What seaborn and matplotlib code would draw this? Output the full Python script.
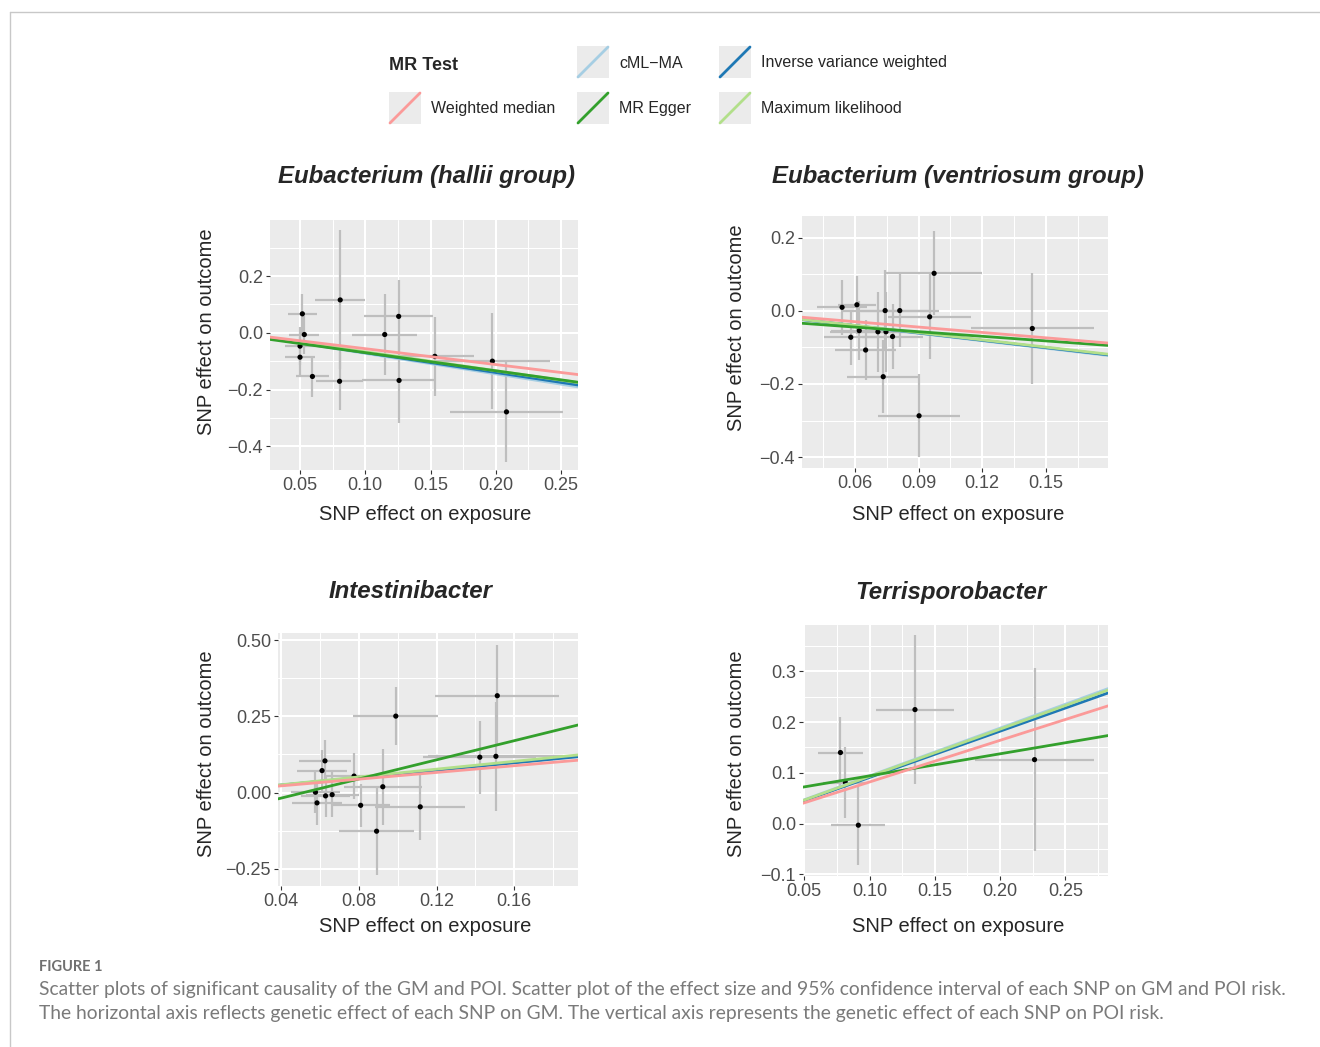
import matplotlib
matplotlib.use("Agg")
import matplotlib.pyplot as plt
import seaborn as sns
from matplotlib.ticker import MultipleLocator, FuncFormatter
from matplotlib.lines import Line2D
from matplotlib.patches import Rectangle

# MR methods (legend order / palette "Paired")
method_names = ["cML\u2212MA", "Inverse variance weighted", "Maximum likelihood", "MR Egger", "Weighted median"]
method_colors = ["#A6CEE3", "#1F78B4", "#B2DF8A", "#33A02C", "#FB9A99"]

# Eubacterium (hallii group)
hallii_bx = [0.0518, 0.0533, 0.0500, 0.0500, 0.0595, 0.0808, 0.0803, 0.1149, 0.1256, 0.1259, 0.1533, 0.1974, 0.2082]
hallii_by = [0.067, -0.006, -0.047, -0.086, -0.154, 0.116, -0.171, -0.006, 0.058, -0.168, -0.083, -0.100, -0.279]
hallii_ex = [0.0109, 0.0115, 0.0115, 0.0112, 0.0124, 0.0190, 0.0183, 0.0250, 0.0264, 0.0282, 0.0297, 0.0440, 0.0436]
hallii_ey = [0.071, 0.067, 0.067, 0.071, 0.073, 0.245, 0.103, 0.142, 0.128, 0.151, 0.139, 0.170, 0.177]
hallii_slopes = [-0.725, -0.70, -0.668, -0.64, -0.56]
hallii_egger_int = -0.006

# Eubacterium (ventriosum group)
vent_bx = [0.0539, 0.0609, 0.0742, 0.0811, 0.0952, 0.0620, 0.0708, 0.0746, 0.0777, 0.0580, 0.0650, 0.0733, 0.0902, 0.0973, 0.1436]
vent_by = [0.010, 0.017, 0.001, 0.001, -0.016, -0.054, -0.057, -0.057, -0.070, -0.072, -0.107, -0.180, -0.287, 0.103, -0.048]
vent_ex = [0.0117, 0.0090, 0.0205, 0.0184, 0.0197, 0.0133, 0.0227, 0.0150, 0.0145, 0.0125, 0.0144, 0.0170, 0.0194, 0.0225, 0.0290]
vent_ey = [0.075, 0.080, 0.110, 0.100, 0.116, 0.080, 0.110, 0.110, 0.089, 0.075, 0.082, 0.100, 0.114, 0.115, 0.151]
vent_slopes = [-0.68, -0.67, -0.66, -0.42, -0.49]
vent_egger_int = -0.019

# Intestinibacter
intest_bx = [0.0625, 0.0610, 0.0775, 0.0576, 0.0584, 0.0628, 0.0662, 0.0809, 0.0923, 0.0891, 0.1116, 0.0990, 0.1423, 0.1506, 0.1513]
intest_by = [0.104, 0.072, 0.054, 0.001, -0.034, -0.011, -0.007, -0.042, 0.019, -0.127, -0.047, 0.251, 0.116, 0.119, 0.318]
intest_ex = [0.0136, 0.0131, 0.0153, 0.0125, 0.0128, 0.0128, 0.0136, 0.0153, 0.0201, 0.0194, 0.0232, 0.0219, 0.0291, 0.0348, 0.0320]
intest_ey = [0.068, 0.068, 0.076, 0.068, 0.071, 0.069, 0.073, 0.071, 0.124, 0.145, 0.108, 0.096, 0.120, 0.179, 0.165]
intest_slopes = [0.62, 0.61, 0.64, 1.57, 0.55]
intest_egger_int = -0.081

# Terrisporobacter
terri_bx = [0.0777, 0.0815, 0.0914, 0.1348, 0.2264]
terri_by = [0.140, 0.081, -0.003, 0.2245, 0.126]
terri_ex = [0.0174, 0.0175, 0.0206, 0.0300, 0.0453]
terri_ey = [0.069, 0.070, 0.079, 0.147, 0.180]
terri_slopes = [0.94, 0.91, 0.93, 0.434, 0.82]
terri_egger_int = 0.0507

caption_head = "FIGURE 1"
caption_lines = [
    "Scatter plots of significant causality of the GM and POI. Scatter plot of the effect size and 95% confidence interval of each SNP on GM and POI risk.",
    "The horizontal axis reflects genetic effect of each SNP on GM. The vertical axis represents the genetic effect of each SNP on POI risk.",
]

sns.set_theme(style="darkgrid", rc={"axes.facecolor": "#EBEBEB", "grid.color": "white"})
plt.rcParams["font.family"] = ["Liberation Sans", "DejaVu Sans"]

W, H = 1320, 1047
fig = plt.figure(figsize=(W / 100, H / 100), dpi=100)
fig.patch.set_facecolor("white")


def fx(px):
    return px / W


def fy(py):
    return 1 - py / H


def fmt(decimals):
    return FuncFormatter(lambda v, p: f"{v:.{decimals}f}".replace("-", "\u2212"))


panels = [
    dict(title="Eubacterium (hallii group)", bx=hallii_bx, by=hallii_by, ex=hallii_ex, ey=hallii_ey,
         slopes=hallii_slopes, eint=hallii_egger_int, xlim=(0.027, 0.263), ylim=(-0.484, 0.398),
         xstep=0.05, ystep=0.2, xdec=2, ydec=1, box=(270, 220, 578, 470),
         tpos=(426, 177), xlpos=(425, 515), ylpos=(207, 332)),
    dict(title="Eubacterium (ventriosum group)", bx=vent_bx, by=vent_by, ex=vent_ex, ey=vent_ey,
         slopes=vent_slopes, eint=vent_egger_int, xlim=(0.035, 0.1793), ylim=(-0.43, 0.26),
         xstep=0.03, ystep=0.2, xdec=2, ydec=1, box=(802, 216, 1108, 468),
         tpos=(958, 177), xlpos=(958, 515), ylpos=(737, 328)),
    dict(title="Intestinibacter", bx=intest_bx, by=intest_by, ex=intest_ex, ey=intest_ey,
         slopes=intest_slopes, eint=intest_egger_int, xlim=(0.0383, 0.1929), ylim=(-0.307, 0.524),
         xstep=0.04, ystep=0.25, xdec=2, ydec=2, box=(278, 633, 578, 886),
         tpos=(411, 592), xlpos=(425, 927), ylpos=(207, 754)),
    dict(title="Terrisporobacter", bx=terri_bx, by=terri_by, ex=terri_ex, ey=terri_ey,
         slopes=terri_slopes, eint=terri_egger_int, xlim=(0.049, 0.2827), ylim=(-0.103, 0.391),
         xstep=0.05, ystep=0.1, xdec=2, ydec=1, box=(803, 625, 1108, 876),
         tpos=(951, 592), xlpos=(958, 927), ylpos=(737, 754)),
]

for p in panels:
    l, t, r, b = p["box"]
    ax = fig.add_axes([fx(l), fy(b), (r - l) / W, (b - t) / H])
    ax.set_facecolor("#EBEBEB")
    ax.errorbar(p["bx"], p["by"], xerr=p["ex"], yerr=p["ey"], fmt="none",
                ecolor="#BEBEBE", elinewidth=1.6, capsize=0, zorder=2)
    sns.scatterplot(x=p["bx"], y=p["by"], color="black", s=14, edgecolor="none", ax=ax, zorder=3)
    for name, col, slope in zip(method_names, method_colors, p["slopes"]):
        icpt = p["eint"] if name == "MR Egger" else 0.0
        ax.axline((0, icpt), slope=slope, color=col, lw=2.0, zorder=4)
    ax.set_xlim(*p["xlim"])
    ax.set_ylim(*p["ylim"])
    ax.xaxis.set_major_locator(MultipleLocator(p["xstep"]))
    ax.xaxis.set_minor_locator(MultipleLocator(p["xstep"] / 2))
    ax.yaxis.set_major_locator(MultipleLocator(p["ystep"]))
    ax.yaxis.set_minor_locator(MultipleLocator(p["ystep"] / 2))
    ax.xaxis.set_major_formatter(fmt(p["xdec"]))
    ax.yaxis.set_major_formatter(fmt(p["ydec"]))
    ax.grid(which="major", color="white", lw=1.5)
    ax.grid(which="minor", color="white", lw=0.75)
    ax.tick_params(which="major", length=3, width=0.8, color="#333333", labelsize=13,
                   labelcolor="#4D4D4D", pad=2, bottom=True, left=True)
    ax.tick_params(which="minor", length=0)
    for s in ax.spines.values():
        s.set_visible(False)
    ax.set_xlabel("")
    ax.set_ylabel("")
    fig.text(fx(p["tpos"][0]), fy(p["tpos"][1]), p["title"], fontsize=17.3, fontweight="bold",
             fontstyle="italic", ha="center", va="center")
    fig.text(fx(p["xlpos"][0]), fy(p["xlpos"][1]), "SNP effect on exposure", fontsize=14.5,
             ha="center", va="center")
    fig.text(fx(p["ylpos"][0]), fy(p["ylpos"][1]), "SNP effect on outcome", fontsize=14.5,
             ha="center", va="center", rotation=90)

# legend at the top
fig.text(fx(389), fy(66), "MR Test", fontsize=13, fontweight="bold", ha="left", va="center")
key_pos = [(577, 46), (719, 46), (719, 92), (577, 92), (389, 92)]
for (kx, ky), name, col in zip(key_pos, method_names, method_colors):
    fig.add_artist(Rectangle((fx(kx), fy(ky + 32)), 32 / W, 32 / H, transform=fig.transFigure,
                             facecolor="#EBEBEB", edgecolor="none"))
    fig.add_artist(Line2D([fx(kx + 1), fx(kx + 31)], [fy(ky + 31), fy(ky + 1)],
                          transform=fig.transFigure, color=col, lw=2.0))
    fig.text(fx(kx + 42), fy(ky + 17), name, fontsize=11.5, ha="left", va="center")

# caption
fig.text(fx(39), fy(971), caption_head, fontsize=10.5, fontweight="bold", color="#707070",
         family=["Lato", "DejaVu Sans"], ha="left", va="baseline")
for i, line in enumerate(caption_lines):
    fig.text(fx(39), fy(995 + 24 * i), line, fontsize=13.9, color="#7A7A7A",
             family=["Lato", "DejaVu Sans"], ha="left", va="baseline")

# card border
fig.add_artist(Line2D([fx(9.5), fx(9.5)], [fy(11.5), 0], transform=fig.transFigure, color="#C8C8C8", lw=1))
fig.add_artist(Line2D([fx(9.5), 1], [fy(11.5), fy(11.5)], transform=fig.transFigure, color="#C8C8C8", lw=1))

fig.savefig("out.png", dpi=100)
